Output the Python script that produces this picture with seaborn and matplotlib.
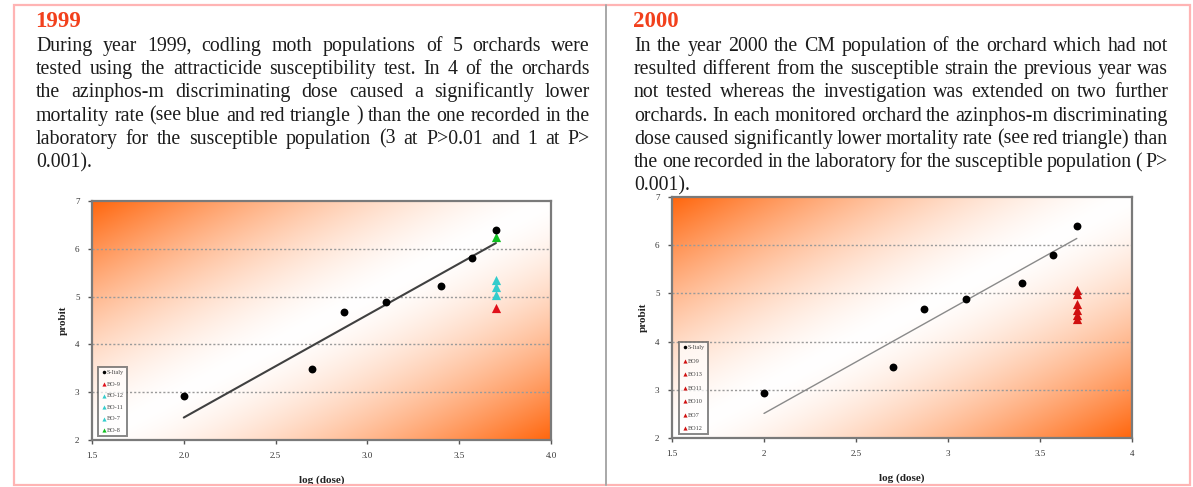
import numpy as np
import matplotlib
matplotlib.use("Agg")
import matplotlib.pyplot as plt
import seaborn as sns
from matplotlib.patches import Rectangle
from matplotlib.lines import Line2D

# ---------------- data ----------------
log_dose = [2.0, 2.7, 2.87, 3.1, 3.4, 3.57, 3.7]
probit_s_italy = [2.93, 3.48, 4.68, 4.89, 5.22, 5.80, 6.39]

discriminating_dose = 3.7

orchards_1999 = ["BO-9", "BO-12", "BO-11", "BO-7", "BO-8"]
probit_1999 = [4.76, 5.35, 5.20, 5.03, 6.25]
colors_1999 = ["#E0101A", "#33CCCC", "#33CCCC", "#33CCCC", "#10C020"]

orchards_2000 = ["BO9", "BO13", "BO11", "BO10", "BO7", "BO12"]
probit_2000 = [5.08, 4.98, 4.78, 4.66, 4.56, 4.46]
colors_2000 = ["#D01010"] * 6

fit_dose = [2.0, 3.7]
fit_probit_1999 = [2.47, 6.12]
fit_probit_2000 = [2.51, 6.14]

y_ticks = [2, 3, 4, 5, 6, 7]
x_ticks = [1.5, 2.0, 2.5, 3.0, 3.5, 4.0]
x_ticklabels_1999 = ["1.5", "2.0", "2.5", "3.0", "3.5", "4.0"]
x_ticklabels_2000 = ["1.5", "2", "2.5", "3", "3.5", "4"]

text_1999 = [
    "During  year 1999, codling moth populations of 5 orchards were",
    "tested using the attracticide susceptibility test. In 4 of the orchards",
    "the azinphos-m discriminating dose caused  a significantly lower",
    "mortality rate (see blue and red triangle ) than the one recorded in the",
    "laboratory for the susceptible population (3 at P>0.01 and 1 at P>",
    "0.001).",
]
text_2000 = [
    "In the year 2000 the CM population of the orchard which had not",
    "resulted different from the susceptible strain the previous year was",
    "not tested whereas the investigation was extended on  two further",
    "orchards. In each monitored orchard the azinphos-m discriminating",
    "dose caused  significantly lower mortality rate (see red triangle) than",
    "the one recorded in the laboratory for the susceptible population ( P>",
    "0.001).",
]

# ---------------- figure ----------------
W, H, DPI = 1193, 487, 100
sns.set_theme(style="white")
plt.rcParams["font.family"] = ["Liberation Serif", "DejaVu Serif"]

fig = plt.figure(figsize=(W / DPI, H / DPI), dpi=DPI)
fig.patch.set_facecolor("white")


def fx(x):
    return x / W


def fy(y):
    return 1 - y / H


def add_px_axes(x0, y0, x1, y1):
    return fig.add_axes([fx(x0), fy(y1), (x1 - x0) / W, (y1 - y0) / H])


# outer frame and divider
fig.add_artist(Rectangle((fx(14), fy(485)), (1190 - 14) / W, (485 - 5) / H,
                         transform=fig.transFigure, fill=False,
                         edgecolor="#FFB4B4", lw=1.6))
fig.add_artist(Line2D([fx(606), fx(606)], [fy(5), fy(485)],
                      transform=fig.transFigure, color="#A8A8A8", lw=1.4))

renderer = fig.canvas.get_renderer()
TEXT_COLOR = "#1c1c1c"
BODY_SIZE = 14.3


def justified_paragraph(lines, x0, x1, baseline0, step):
    space = BODY_SIZE * DPI / 72 * 0.25
    for i, line in enumerate(lines):
        words = line.split()
        y = fy(baseline0 + i * step)
        objs = [fig.text(0, y, w, fontsize=BODY_SIZE, color=TEXT_COLOR,
                         ha="left", va="baseline") for w in words]
        widths = [o.get_window_extent(renderer).width for o in objs]
        if i == len(lines) - 1 or len(words) == 1:
            gap = space
        else:
            gap = (x1 - x0 - sum(widths)) / (len(words) - 1)
        x = x0
        for o, w in zip(objs, widths):
            o.set_x(fx(x))
            x += w + gap


def heading(label, x):
    fig.text(fx(x), fy(27), label, fontsize=16.5, fontweight="bold",
             color="#F2401C", ha="left", va="baseline")


heading("1999", 35)
justified_paragraph(text_1999, 36, 590, 51, 23.2)
heading("2000", 633)
justified_paragraph(text_2000, 634, 1168, 51, 23.2)

# background gradient: orange in the upper-left and lower-right corners
n = 300
U, V = np.meshgrid(np.linspace(0, 1, n), np.linspace(0, 1, n))
f = np.clip(np.abs(V - U), 0, 1) ** 1.5
orange = np.array([1.0, 0.40, 0.05])
grad = (1 - f)[..., None] * np.ones(3) + f[..., None] * orange


def style_panel(ax, xticklabels, legend_box, labelspacing, line_color, line_w,
                fit_y, orchards, values, colors):
    ax.imshow(grad, extent=(0, 1, 0, 1), transform=ax.transAxes,
              origin="lower", aspect="auto", zorder=0, interpolation="bilinear")
    for yv in y_ticks[1:-1]:
        ax.axhline(yv, color="#9a9a9a", lw=1.0, ls=(0, (1.5, 1.5)), zorder=1)

    sns.lineplot(x=fit_dose, y=fit_y, color=line_color, lw=line_w, ax=ax,
                 zorder=2, legend=False)
    sns.scatterplot(x=log_dose, y=probit_s_italy, color="black", s=32,
                    linewidth=0, label="S-Italy", ax=ax, zorder=4)
    for name, val, c in zip(orchards, values, colors):
        sns.scatterplot(x=[discriminating_dose], y=[val], marker="^", color=c,
                        s=44, linewidth=0, label=name, ax=ax, zorder=3)

    ax.set_xlim(1.5, 4.0)
    ax.set_ylim(2, 7)
    ax.set_xticks(x_ticks)
    ax.set_xticklabels(xticklabels)
    ax.set_yticks(y_ticks)
    ax.tick_params(axis="both", direction="out", length=3, width=1,
                   color="#555555", labelsize=6.5, labelcolor="#333333",
                   pad=6)
    ax.tick_params(axis="x", bottom=True)
    ax.tick_params(axis="y", left=True)
    for sp in ax.spines.values():
        sp.set_color("#7a7a7a")
        sp.set_linewidth(1.6)
    ax.set_xlabel("log (dose)", fontsize=8, fontweight="bold", color="#222222",
                  labelpad=11)
    ax.set_ylabel("probit", fontsize=8, fontweight="bold", color="#222222",
                  labelpad=5)

    leg = ax.legend(loc="lower left", bbox_to_anchor=legend_box,
                    borderaxespad=0, fontsize=4.5, markerscale=0.45,
                    handletextpad=0.05, handlelength=0.9,
                    labelspacing=labelspacing, borderpad=0.45,
                    frameon=True, fancybox=False, facecolor="white",
                    framealpha=0.7, edgecolor="#555555")
    leg.get_frame().set_linewidth(1.4)
    for t in leg.get_texts():
        t.set_color("#444444")


ax1 = add_px_axes(92, 201, 551, 440)
style_panel(ax1, x_ticklabels_1999, (0.013, 0.017), 1.0, "#404040", 1.5,
            fit_probit_1999, orchards_1999, probit_1999, colors_1999)

ax2 = add_px_axes(672, 197, 1132, 438)
style_panel(ax2, x_ticklabels_2000, (0.015, 0.017), 1.3, "#8a8a8a", 1.0,
            fit_probit_2000, orchards_2000, probit_2000, colors_2000)

fig.savefig("out.png", dpi=DPI)
